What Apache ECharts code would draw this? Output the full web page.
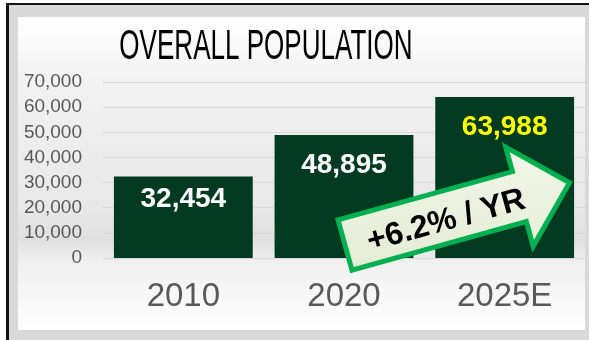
<!DOCTYPE html>
<html><head><meta charset="utf-8">
<script src="https://cdn.jsdelivr.net/npm/echarts@6/dist/echarts.min.js"></script>
<style>html,body{margin:0;padding:0;background:#fff}#c{width:589px;height:340px}</style>
</head><body><div id="c"></div>
<script>
const categories = ['2010', '2020', '2025E'];
const population = [32454, 48895, 63988];
const titleText = 'OVERALL POPULATION';
const growthText = '+6.2% / YR';

const labelColors = ['#ffffff', '#ffffff', '#ffff00'];
const labelDist = [9, 16, 16];

const chart = echarts.init(document.getElementById('c'), null, {renderer: 'canvas'});

// arrow geometry (decoration)
const th = 15.5 * Math.PI / 180, c = Math.cos(th), s = Math.sin(th);
const ox = 345, oy = 245;
function tp(x, y) { return [ox + x * c + y * s, oy - x * s + y * c]; }
const arrowPts = [[0,-26],[181,-26],[181,-51.5],[233,0],[181,51.5],[181,26],[0,26]].map(p => tp(p[0], p[1]));
const textPos = tp(104, 4);

chart.setOption({
  animation: false,
  backgroundColor: '#ffffff',
  grid: {left: 103, right: 4, top: 82, bottom: 82, containLabel: false},
  xAxis: {
    type: 'category', data: categories,
    axisLine: {show: false}, axisTick: {show: false},
    axisLabel: {color: '#595959', fontSize: 33, fontFamily: 'Liberation Sans', margin: 22}
  },
  yAxis: {
    type: 'value', min: 0, max: 70000, interval: 10000,
    axisLine: {show: false}, axisTick: {show: false},
    axisLabel: {color: '#595959', fontSize: 19, fontFamily: 'Liberation Sans', margin: 21,
      formatter: v => v.toLocaleString('en-US')},
    splitLine: {lineStyle: {color: '#d9d9d9', width: 1}}
  },
  series: [{
    type: 'bar', z: 5,
    barCategoryGap: '13.6%',
    data: population.map((v, i) => ({
      value: v,
      label: {color: labelColors[i], distance: labelDist[i]}
    })),
    itemStyle: {color: '#003a20'},
    label: {show: true, position: 'insideTop', fontSize: 28, fontWeight: 'bold',
      fontFamily: 'Liberation Sans', formatter: p => p.value.toLocaleString('en-US')}
  }],
  graphic: [
    {type: 'rect', z: -10, silent: true, shape: {x: 6, y: 3, width: 583, height: 337}, style: {fill: '#111'}},
    {type: 'rect', z: -9, silent: true, shape: {x: 9, y: 5, width: 580, height: 335}, style: {fill: '#d9d9d9'}},
    {type: 'rect', z: -8, silent: true, shape: {x: 18, y: 17, width: 567, height: 313},
      style: {fill: new echarts.graphic.LinearGradient(0, 0, 0, 1, [
        {offset: 0, color: '#ffffff'},
        {offset: 0.2, color: '#f2f2f2'},
        {offset: 0.6, color: '#e8e8e8'},
        {offset: 0.71, color: '#e0e0e0'},
        {offset: 0.78, color: '#f0f0f0'},
        {offset: 1, color: '#ffffff'}
      ])}},
    {type: 'text', z: 10, silent: true, x: 266, y: 47, scaleX: 0.62,
      style: {text: titleText, fill: '#000', font: '42px "Liberation Sans"', align: 'center', verticalAlign: 'middle'}},
    {type: 'polygon', z: 100, silent: true, shape: {points: arrowPts},
      style: {fill: new echarts.graphic.LinearGradient(0, 0, 0, 1, [
        {offset: 0, color: '#f2f6ea'}, {offset: 1, color: '#e3ecd3'}]),
        stroke: '#00b050', lineWidth: 5, lineJoin: 'miter'}},
    {type: 'text', z: 101, silent: true, x: textPos[0], y: textPos[1], rotation: th,
      style: {text: growthText, fill: '#000', font: 'bold 32px "Liberation Sans"', align: 'center', verticalAlign: 'middle'}}
  ]
});
</script></body></html>
